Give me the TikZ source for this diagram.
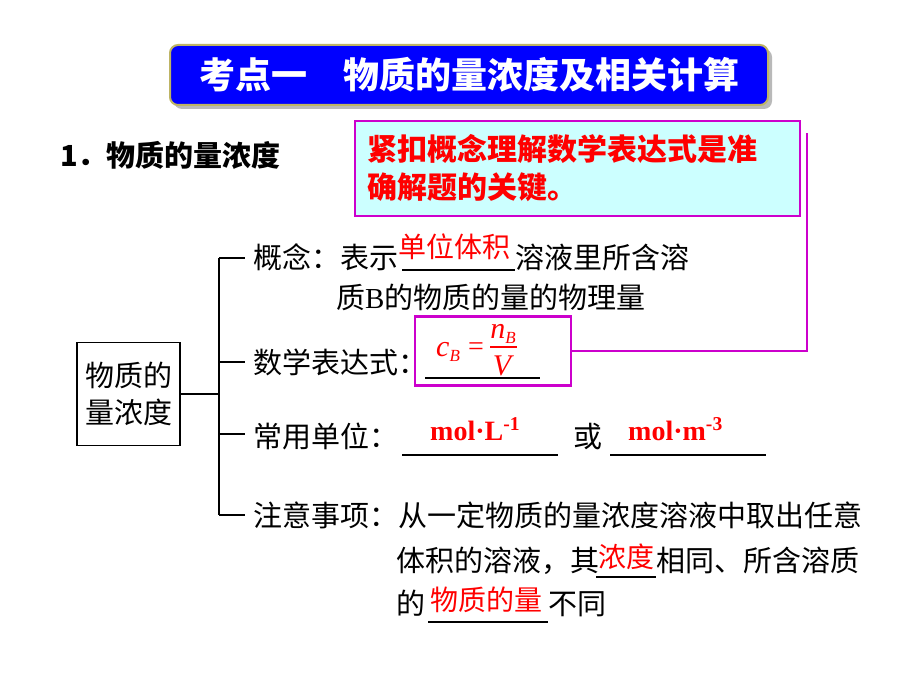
\documentclass[tikz,border=0pt]{standalone}
\usepackage{fontspec}
\setmainfont{Liberation Serif}
\newfontfamily\cjk{Noto Sans CJK SC}
\usetikzlibrary{positioning}

\definecolor{titleblue}{RGB}{0,0,255}
\definecolor{titlerim}{RGB}{190,180,100}
\definecolor{notefill}{RGB}{204,255,255}
\definecolor{callout}{RGB}{204,0,204}
\definecolor{answer}{RGB}{255,0,0}

\newcommand{\subB}{\raisebox{-5pt}{\fontsize{17}{17}\selectfont\itshape B}}

\tikzset{
  title/.style={draw=titlerim, line width=2pt, fill=titleblue, rounded corners=8pt,
    minimum width=598pt, minimum height=60pt, text=white,
    font=\cjk\bfseries\fontsize{36}{40}\selectfont},
  note/.style={draw=callout, line width=2.5pt, fill=notefill, text width=420pt,
    inner xsep=12.5pt, minimum height=95pt, align=left, text=answer,
    font=\cjk\bfseries\fontsize{30}{38}\selectfont},
  body/.style={inner sep=0pt, anchor=base west, font=\cjk\fontsize{29}{36}\selectfont},
  fill in/.style={inner sep=0pt, anchor=base west, text=answer,
    font=\cjk\fontsize{28}{34}\selectfont},
  unit/.style={inner sep=0pt, anchor=base west, text=answer,
    font=\bfseries\fontsize{28}{34}\selectfont},
  symb/.style={inner sep=0pt, anchor=base, text=answer,
    font=\itshape\fontsize{30}{30}\selectfont},
  blank/.style={line width=1.5pt},
  branch/.style={line width=2pt},
}

\begin{document}
\begin{tikzpicture}[x=1pt,y=-1pt]
	\useasboundingbox[fill=white] (0,0) rectangle (920,690);
	% Draw the title banner
	\fill[gray!55, rounded corners=8pt] (174,49) rectangle (772,109);
	\node[title] (title) at (469,75) {考点一　物质的量浓度及相关计算};
	\node[body, font=\cjk\bfseries\fontsize{29}{36}\selectfont] (head) at (60,166) {1．物质的量浓度};
	% The hint box and its callout
	\node[note] (hint) at (577.5,168.5) {紧扣概念理解数学表达式是准\\确解题的关键。};
	\node[draw=callout, line width=2.5pt, minimum width=156pt, minimum height=69pt] (fbox) at (493,351) {};
	% The formula c_B = n_B / V
	\node[symb, anchor=base west] (cB) at (436,356) {c\subB};
	\node[symb, font=\fontsize{28}{28}\selectfont] (eq) at (476,355) {=};
	\node[symb] (nB) at (503,338) {n\subB};
	\node[symb] (V) at (502,375) {V};
	\draw[answer, line width=1.2pt] (490,347) -- (517,347);
	\coordinate (tip) at (807,133);
	\draw[callout, line width=2.5pt] (fbox.east) -| (tip);
	% The concept and its four branches
	\node[draw, line width=1.5pt, minimum width=103pt, minimum height=103pt, align=center,
		font=\cjk\fontsize{29}{37}\selectfont] (conc) at (128.5,394) {物质的\\量浓度};
	\coordinate (j1) at (219,258);
	\coordinate (j2) at (219,362);
	\coordinate (j3) at (219,434);
	\coordinate (j4) at (219,515);
	\draw[branch] (conc.east) -- (conc.east -| j1);
	\draw[branch] (j1) -- (j4);
	\foreach \j in {j1,j2,j3,j4}
		\draw[branch] (\j) -- ++(26,0);
	% Branch 1
	\node[body] (gn) at (253,268) {概念：表示};
	\node[fill in] (gnA) at (398,257) {单位体积};
	\node[body] (gn2) at (515,268) {溶液里所含溶};
	\node[body] (gn3) at (336,308) {质{\rmfamily B}的物质的量的物理量};
	\draw[blank] (402,270) -- (515,270);
	% Branch 2
	\node[body] (bds) at (253,373) {数学表达式：};
	\draw[blank] (425,378) -- (540,378);
	% Branch 3
	\node[body] (dw) at (253,447) {常用单位：};
	\node[unit] (u1) at (430,440) {mol·L\textsuperscript{-1}};
	\node[body] (huo) at (573,447) {或};
	\node[unit] (u2) at (628,440) {mol·m\textsuperscript{-3}};
	\draw[blank] (402,455) -- (558,455);
	\draw[blank] (610,455) -- (766,455);
	% Branch 4
	\node[body] (zy) at (253,526) {注意事项：从一定物质的量浓度溶液中取出任意};
	\node[body] (zy2) at (396,571) {体积的溶液，其};
	\node[fill in] (zyA) at (598,567) {浓度};
	\node[body] (zy3) at (656,571) {相同、所含溶质};
	\node[body] (zy4) at (396,614) {的};
	\node[fill in] (zyB) at (430,610) {物质的量};
	\node[body] (zy5) at (548,614) {不同};
	\draw[blank] (596,577) -- (656,577);
	\draw[blank] (428,622) -- (548,622);
\end{tikzpicture}
\end{document}
